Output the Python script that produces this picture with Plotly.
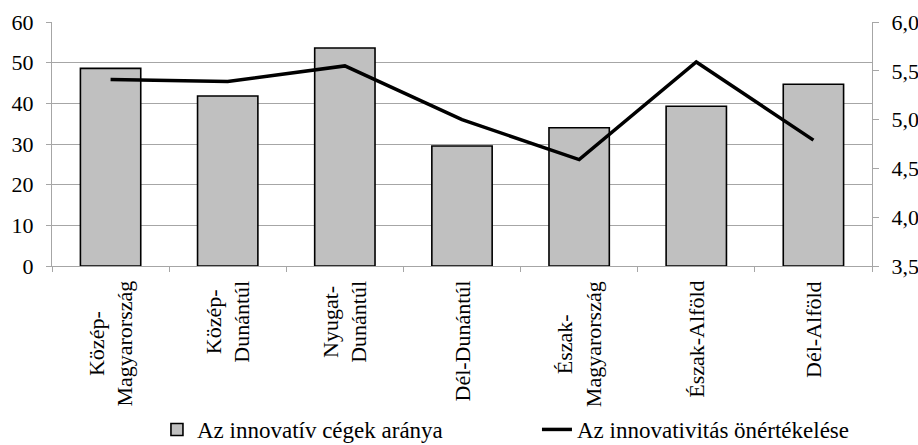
import plotly.graph_objects as go

categories = [
    "Közép-<br>Magyarország",
    "Közép-<br>Dunántúl",
    "Nyugat-<br>Dunántúl",
    "Dél-Dunántúl",
    "Észak-<br>Magyarország",
    "Észak-Alföld",
    "Dél-Alföld",
]
innovative_share = [48.6, 41.8, 53.6, 29.5, 34.0, 39.3, 44.7]
self_assessment = [5.41, 5.39, 5.55, 5.00, 4.59, 5.59, 4.79]

bar_name = "Az innovatív cégek aránya"
line_name = "Az innovativitás önértékelése"

FONT = "Times New Roman, Liberation Serif, Tinos, DejaVu Serif, serif"
GRID = "#a6a6a6"
FS = 22

fig = go.Figure()
fig.add_trace(go.Bar(
    x=categories, y=innovative_share, name=bar_name,
    marker=dict(color="#c0c0c0", line=dict(color="black", width=1.6)),
    yaxis="y",
))
fig.add_trace(go.Scatter(
    x=categories, y=self_assessment, name=line_name,
    mode="lines", line=dict(color="black", width=3.5),
    yaxis="y2",
))

# category labels: rotated, lines centred like the original
for cat in categories:
    fig.add_annotation(
        x=cat, xref="x", y=0, yref="paper", yanchor="top", xanchor="center",
        yshift=-13, text=cat, textangle=-90, align="center", showarrow=False,
        font=dict(family=FONT, size=FS, color="black"),
    )

fig.update_layout(
    template="none",
    width=918, height=445,
    margin=dict(l=52, r=46, t=22, b=179, autoexpand=False),
    paper_bgcolor="white", plot_bgcolor="white",
    font=dict(family=FONT, size=FS, color="black"),
    separators=", ",
    bargap=0.485,
    showlegend=True,
    legend=dict(
        orientation="h", x=0.128, xanchor="left", y=-0.67, yanchor="middle",
        font=dict(family=FONT, size=23), entrywidth=335, entrywidthmode="pixels",
        bgcolor="rgba(0,0,0,0)", itemwidth=30,
    ),
    xaxis=dict(
        type="category", range=[-0.5, 6.5], tickson="boundaries",
        ticks="outside", ticklen=5, tickcolor=GRID, automargin=False,
        showline=True, linecolor=GRID, linewidth=1,
        showticklabels=False, showgrid=False, zeroline=False,
    ),
    yaxis=dict(
        range=[0, 60], dtick=10, tick0=0, automargin=False,
        ticks="outside", ticklen=5, tickcolor=GRID, ticklabelstandoff=8,
        showline=True, linecolor=GRID, linewidth=1,
        showgrid=True, gridcolor=GRID, gridwidth=1, zeroline=False,
        tickfont=dict(family=FONT, size=FS),
    ),
    yaxis2=dict(
        range=[3.5, 6.0], dtick=0.5, tick0=3.5, tickformat=".1f", automargin=False,
        overlaying="y", side="right",
        ticks="outside", ticklen=6, tickcolor=GRID, ticklabelstandoff=8,
        showline=True, linecolor=GRID, linewidth=1,
        showgrid=False, zeroline=False,
        tickfont=dict(family=FONT, size=FS),
    ),
)

fig.write_html(
    "out.html",
    config={"displayModeBar": False},
    post_script="document.body.style.margin='0';document.body.style.overflow='hidden';",
)
